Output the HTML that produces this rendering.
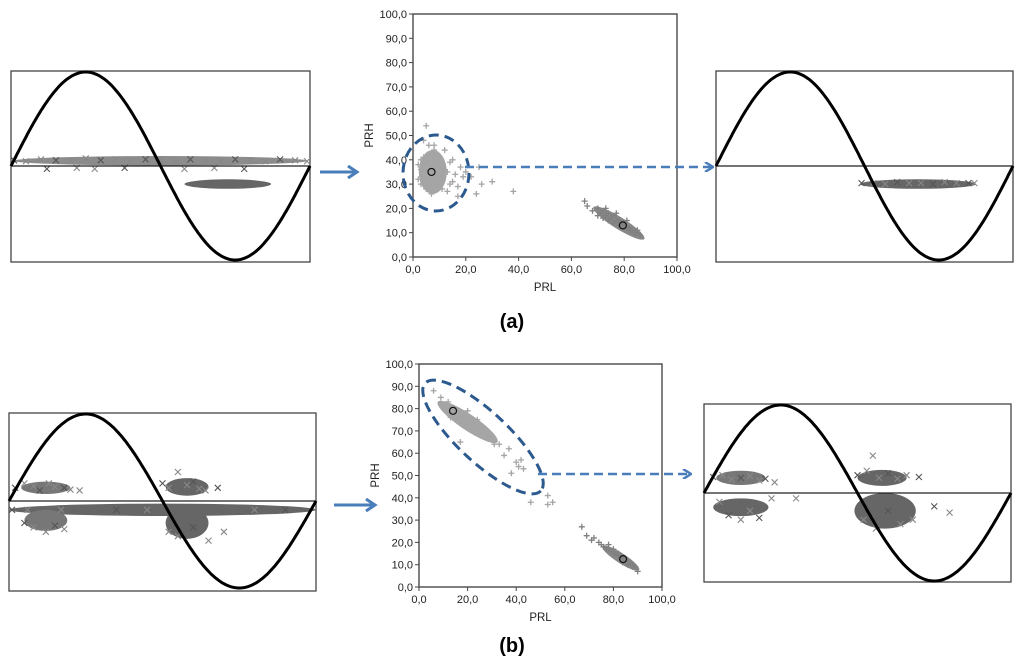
<!DOCTYPE html>
<html><head><meta charset="utf-8"><style>
html,body{margin:0;padding:0;background:#fff;width:1024px;height:666px;overflow:hidden}
svg{display:block}
text{font-family:"Liberation Sans",sans-serif}
</style></head><body>
<svg id="fig" width="1024" height="666" viewBox="0 0 1024 666">
<defs>
<marker id="ah" markerWidth="10" markerHeight="10" refX="8" refY="5" orient="auto" markerUnits="userSpaceOnUse">
<path d="M1,0 L9,5 L1,10" fill="none" stroke="#4a7ebb" stroke-width="2.5"/></marker>
<marker id="ahs" markerWidth="14" markerHeight="14" refX="10" refY="7" orient="auto" markerUnits="userSpaceOnUse">
<path d="M2,1 L11,7 L2,13" fill="none" stroke="#4a7ebb" stroke-width="3"/></marker>
</defs>
<g id="layer"></g>
<text x="512" y="328" text-anchor="middle" font-family="Liberation Serif" font-weight="bold" font-size="20">(a)</text>
<text x="512" y="652" text-anchor="middle" font-family="Liberation Serif" font-weight="bold" font-size="20">(b)</text>
<line x1="320" y1="172" x2="356" y2="172" stroke="#4a7ebb" stroke-width="3" marker-end="url(#ahs)"/>
<line x1="334" y1="505" x2="374" y2="505" stroke="#4a7ebb" stroke-width="3" marker-end="url(#ahs)"/>
</svg>
<script>
// ---- scatter data (PRL, PRH) ----
const ticks = [0,10,20,30,40,50,60,70,80,90,100];
const xticks = [0,20,40,60,80,100];
const aClusterLowPRL_x = [5,4,6,8,3,9,10,12,14,15,16,17,18,20,22,25,26,30,24,38,17,13,11,2,3,7,9,5,12,15,19,4,6,10,8,2,3,11,13,14];
const aClusterLowPRL_y = [54,48,46,44,40,42,38,36,39,40,34,25,37,35,33,37,30,31,26,27,29,27,28,32,36,26,30,28,44,31,33,41,29,33,46,38,30,32,35,30];
const aClusterHighPRL_x = [65,66,68,70,71,72,73,74,75,76,77,78,79,80,81,82,83,84,85,86,70,72,74,76,78,80,82,84,73,77,81,85];
const aClusterHighPRL_y = [23,21,19,20,18,19,17,18,16,17,15,15,14,13,12,12,11,10,10,9,17,16,15,14,13,12,11,10,20,18,15,11];
const aCenters_x = [7,79.5];
const aCenters_y = [35,13];
const bClusterLowPRL_x = [6,9,11,12,14,15,16,17,18,19,20,21,22,23,24,25,26,27,28,30,31,33,35,37,38,40,42,41,43,46,53,53,55,17,13,20,24,28];
const bClusterLowPRL_y = [88,85,82,83,80,79,78,77,76,75,74,76,72,73,71,70,72,68,69,66,64,64,59,62,51,56,57,54,53,38,41,37,38,65,76,79,75,70];
const bClusterHighPRL_x = [67,69,71,72,74,75,76,77,78,79,80,81,82,83,84,85,86,87,88,89,90,78,80,82,84,86,88];
const bClusterHighPRL_y = [27,23,21,22,20,19,18,17,17,16,15,15,14,13,13,12,11,11,10,9,7,19,17,15,11,10,9];
const bCenters_x = [14,84];
const bCenters_y = [79,12.5];

// ---- side panel data: phase (0..1) and amplitude (-1..1) ----
const s1Band_phase = [0.01,0.05,0.1,0.15,0.2,0.25,0.3,0.35,0.4,0.45,0.5,0.55,0.6,0.65,0.7,0.75,0.8,0.85,0.9,0.95,0.99,0.12,0.22,0.28,0.38,0.58,0.68,0.78];
const s1Band_amp = [0.06,0.05,0.07,0.06,0.05,0.08,0.06,0.07,0.05,0.07,0.06,0.05,0.07,0.06,0.05,0.07,0.06,0.05,0.07,0.06,0.05,-0.03,-0.02,-0.03,-0.02,-0.03,-0.02,-0.03];
const s1Clust_phase = [0.58,0.62,0.66,0.7,0.74,0.78,0.82,0.86,0.63,0.69];
const s1Clust_amp = [-0.18,-0.19,-0.18,-0.17,-0.18,-0.19,-0.18,-0.18,-0.3,-0.28];
const s2Clust_phase = [0.49,0.53,0.57,0.61,0.65,0.69,0.73,0.77,0.81,0.85,0.87];
const s2Clust_amp = [-0.18,-0.18,-0.19,-0.17,-0.18,-0.18,-0.19,-0.17,-0.18,-0.18,-0.18];
const s3_phase = [0.02,0.05,0.08,0.1,0.13,0.15,0.18,0.2,0.23,0.05,0.08,0.12,0.15,0.18,0.55,0.5,0.52,0.58,0.6,0.62,0.64,0.68,0.52,0.55,0.6,0.65,0.7,0.01,0.06,0.17,0.35,0.45,0.8,0.9];
const s3_amp = [0.15,0.2,0.17,0.12,0.2,0.16,0.15,0.13,0.12,-0.25,-0.3,-0.35,-0.28,-0.32,0.33,0.2,0.15,0.18,0.22,0.14,0.12,0.15,-0.35,-0.4,-0.3,-0.45,-0.35,-0.1,-0.1,-0.1,-0.1,-0.1,-0.1,-0.1];
const s4_phase = [0.03,0.06,0.09,0.12,0.15,0.18,0.2,0.23,0.05,0.08,0.12,0.15,0.18,0.22,0.3,0.5,0.53,0.57,0.6,0.63,0.66,0.7,0.52,0.56,0.6,0.64,0.68,0.75,0.8,0.55];
const s4_amp = [0.18,0.2,0.15,0.17,0.19,0.14,0.16,0.12,-0.1,-0.25,-0.3,-0.2,-0.28,-0.06,-0.06,0.2,0.25,0.17,0.22,0.16,0.2,0.18,-0.3,-0.4,-0.2,-0.35,-0.3,-0.15,-0.22,0.42];

const NS='http://www.w3.org/2000/svg';
const layer=document.getElementById('layer');
function mk(tag,attrs,parent){const e=document.createElementNS(NS,tag);for(const k in attrs)e.setAttribute(k,attrs[k]);(parent||layer).appendChild(e);return e;}

function scatter(name,box,xs1,ys1,xs2,ys2,cx,cy,core1,core2){
  const g=mk('g',{});
  
  
  const X=v=>box.x0+(box.x1-box.x0)*v/100;
  const Y=v=>box.y1-(box.y1-box.y0)*v/100;
  const r=mk('rect',{x:box.x0,y:box.y0,width:box.x1-box.x0,height:box.y1-box.y0,fill:'none',stroke:'#555','stroke-width':1.5},g);
  
  
  ticks.forEach(t=>{
    mk('line',{x1:box.x0-4,x2:box.x0,y1:Y(t),y2:Y(t),stroke:'#444'},g);
    const tx=mk('text',{x:box.x0-6,y:Y(t)+4,'text-anchor':'end','font-size':11,fill:'#222'},g);
    tx.textContent=t.toFixed(1).replace('.',',');
    
    
  });
  xticks.forEach(t=>{
    mk('line',{x1:X(t),x2:X(t),y1:box.y1,y2:box.y1+4,stroke:'#444'},g);
    const tx=mk('text',{x:X(t),y:box.y1+16,'text-anchor':'middle','font-size':11,fill:'#222'},g);
    tx.textContent=t.toFixed(1).replace('.',',');
    
    
  });
  const xl=mk('text',{x:(box.x0+box.x1)/2,y:box.y1+34,'text-anchor':'middle','font-size':11.5,fill:'#222'},g);
  xl.textContent='PRL';
  
  
  const yc=(box.y0+box.y1)/2;
  const yl=mk('text',{x:box.x0-40,y:yc,'text-anchor':'middle','font-size':11.5,fill:'#222',transform:`rotate(-90 ${box.x0-40} ${yc})`},g);
  yl.textContent='PRH';
  
  
  [core1,core2].forEach((c,i)=>{
    const e=mk('ellipse',{cx:X(c[0]),cy:Y(c[1]),rx:c[2],ry:c[3],fill:i?'#888':'#a5a5a5',transform:`rotate(${c[4]} ${X(c[0])} ${Y(c[1])})`},g);
    
    
  });
  const plus=(xs,ys,col)=>xs.forEach((v,i)=>{
    const px=X(v),py=Y(ys[i]);
    const p=mk('path',{d:`M${px-3},${py}h6M${px},${py-3}v6`,stroke:col,'stroke-width':1.3},g);
    
    
  });
  plus(xs1,ys1,'#a5a5a5');plus(xs2,ys2,'#808080');
  cx.forEach((v,i)=>{
    const c=mk('circle',{cx:X(v),cy:Y(cy[i]),r:3.5,fill:'none',stroke:'#111','stroke-width':1.2},g);
    
    
  });
}

scatter('scatter-a',{x0:413,x1:677,y0:14,y1:257},aClusterLowPRL_x,aClusterLowPRL_y,aClusterHighPRL_x,aClusterHighPRL_y,aCenters_x,aCenters_y,[7.5,35,14,22,0],[78,14,30,6,32]);
scatter('scatter-b',{x0:419,x1:662,y0:364,y1:587},bClusterLowPRL_x,bClusterLowPRL_y,bClusterHighPRL_x,bClusterHighPRL_y,bCenters_x,bCenters_y,[20,74,36,8,34],[83,13,22,5,33]);

let e=mk('ellipse',{cx:436,cy:173,rx:33,ry:38,fill:'none',stroke:'#2d5a8e','stroke-width':3,'stroke-dasharray':'10,6'});


e=mk('line',{x1:465,y1:167,x2:712,y2:167,stroke:'#4a7ebb','stroke-width':2.5,'stroke-dasharray':'9,5','marker-end':'url(#ah)'});


e=mk('ellipse',{cx:483,cy:437,rx:79,ry:25,fill:'none',stroke:'#2d5a8e','stroke-width':3,'stroke-dasharray':'10,6',transform:'rotate(43 483 437)'});


e=mk('line',{x1:538,y1:474,x2:690,y2:474,stroke:'#4a7ebb','stroke-width':2.5,'stroke-dasharray':'9,5','marker-end':'url(#ah)'});



function panel(name,b,ph,am,blobs){
  const g=mk('g',{});
  
  
  const mid=b.mid, amp=Math.min(mid-b.y0,b.y1-mid);
  const X=p=>b.x0+(b.x1-b.x0)*p;
  const Y=a=>mid-amp*a;
  const r=mk('rect',{x:b.x0,y:b.y0,width:b.x1-b.x0,height:b.y1-b.y0,fill:'#fff',stroke:'#444','stroke-width':1.3},g);
  
  
  blobs.forEach(c=>{
    const el=mk('ellipse',{cx:X(c[0]),cy:Y(c[1]),rx:(b.x1-b.x0)*c[2],ry:amp*c[3],fill:c[4]},g);
    
    
  });
  ph.forEach((p,i)=>{
    const px=X(p),py=Y(am[i]);
    const m=mk('path',{d:`M${px-3},${py-3}l6,6M${px+3},${py-3}l-6,6`,stroke:i%3?'#888':'#555','stroke-width':1.1},g);
    
    
  });
  const ml=mk('line',{x1:b.x0,x2:b.x1,y1:mid,y2:mid,stroke:'#222','stroke-width':1.2},g);
  
  
  let d='';
  for(let i=0;i<=200;i++){const p=i/200;d+=(i?'L':'M')+X(p).toFixed(1)+','+(mid-(amp-1)*Math.sin(2*Math.PI*p)).toFixed(1);}
  const s=mk('path',{d,fill:'none',stroke:'#000','stroke-width':3},g);
  
  
}
panel('signal-panel-a-left',{x0:11,x1:310,y0:71,y1:262,mid:166},s1Band_phase,s1Band_amp,
  [[0.5,0.055,0.49,0.05,'#8c8c8c'],[0.725,-0.19,0.145,0.05,'#666']]);
panel('signal-panel-a-right',{x0:716,x1:1013,y0:71,y1:262,mid:166},s2Clust_phase,s2Clust_amp,
  [[0.68,-0.19,0.195,0.05,'#666']]);
panel('signal-panel-b-left',{x0:9,x1:316,y0:413,y1:591,mid:501},s3_phase,s3_amp,
  [[0.5,-0.1,0.5,0.07,'#666'],[0.58,0.16,0.07,0.1,'#666'],[0.12,0.15,0.08,0.07,'#777'],[0.58,-0.25,0.07,0.18,'#666'],[0.12,-0.22,0.07,0.12,'#777']]);
panel('signal-panel-b-right',{x0:704,x1:1011,y0:404,y1:582,mid:493},s4_phase,s4_amp,
  [[0.12,0.17,0.08,0.08,'#777'],[0.12,-0.16,0.09,0.1,'#666'],[0.58,0.17,0.08,0.09,'#666'],[0.59,-0.2,0.1,0.2,'#666']]);
</script>
</body></html>
